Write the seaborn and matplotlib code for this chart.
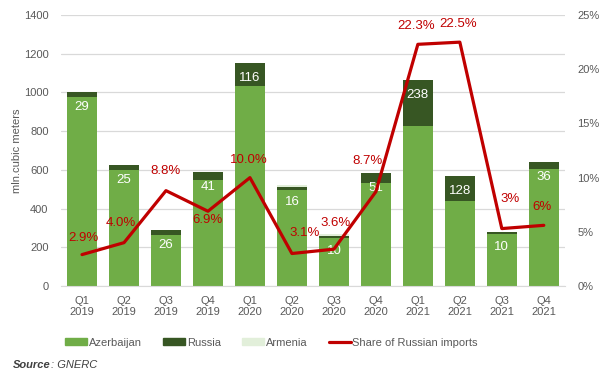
import numpy as np
import pandas as pd
import matplotlib
matplotlib.use("Agg")
import matplotlib.pyplot as plt
from matplotlib.patches import Patch
from matplotlib.lines import Line2D
import seaborn as sns

# datos
quarters = ["Q1\n2019", "Q2\n2019", "Q3\n2019", "Q4\n2019",
            "Q1\n2020", "Q2\n2020", "Q3\n2020", "Q4\n2020",
            "Q1\n2021", "Q2\n2021", "Q3\n2021", "Q4\n2021"]
azerbaijan = [976, 600, 263, 548, 1036, 495, 250, 533, 826, 440, 270, 604]
russia = [29, 25, 26, 41, 116, 16, 10, 51, 238, 128, 10, 36]
armenia = [0, 0, 0, 0, 0, 9, 8, 0, 0, 0, 0, 0]
share = [2.9, 4.0, 8.8, 6.9, 10.0, 3.0, 3.4, 8.7, 22.3, 22.5, 5.3, 5.6]
share_labels = ["2.9%", "4.0%", "8.8%", "6.9%", "10.0%", "3.1%", "3.6%",
                "8.7%", "22.3%", "22.5%", "3%", "6%"]
# desplazamiento de etiquetas (puntos)
label_offsets = [(1, 12), (-2, 14), (0, 14), (0, -6), (-1, 13), (9, 15),
                 (1, 19), (-6, 22), (-1, 13), (-1, 13), (6, 21), (-1, 13)]

c_az = "#70AD47"
c_ru = "#375623"
c_am = "#E2EFDA"
c_line = "#C00000"
c_text = "#595959"

df = pd.DataFrame({"q": quarters, "az": azerbaijan, "ru": russia, "am": armenia})
df["az_ru"] = df["az"] + df["ru"]
df["total"] = df["az_ru"] + df["am"]

sns.set_style("white")
plt.rcParams["font.family"] = ["Liberation Sans", "DejaVu Sans"]

fig = plt.figure(figsize=(6.06, 3.86), dpi=100)
ax = fig.add_axes([0.1007, 0.259, 0.8313, 0.702])

# barras apiladas: total, luego az+ru, luego az encima
for col, c in [("total", c_am), ("az_ru", c_ru), ("az", c_az)]:
    sns.barplot(data=df, x="q", y=col, color=c, width=0.71, saturation=1,
                linewidth=0, ax=ax)

ax.set_ylim(0, 1400)
ax.set_yticks(range(0, 1401, 200))
ax.set_xlim(-0.5, 11.5)
ax.yaxis.grid(True, color="#D9D9D9", linewidth=0.9)
ax.set_axisbelow(True)
for s in ["top", "right", "left"]:
    ax.spines[s].set_visible(False)
ax.spines["bottom"].set_color("#D9D9D9")
ax.tick_params(axis="both", length=0, labelsize=8, labelcolor=c_text)
ax.tick_params(axis="x", pad=7)
ax.tick_params(axis="y", pad=9)
ax.set_xlabel("")
ax.set_ylabel("mln.cubic meters", fontsize=8, color=c_text, labelpad=1)

for i, (a, r) in enumerate(zip(azerbaijan, russia)):
    ax.annotate(str(r), (i, a + r), xytext=(0, -11), textcoords="offset points",
                ha="center", va="center", color="white", fontsize=9.5)

ax2 = ax.twinx()
sns.lineplot(x=np.arange(len(share)), y=share, color=c_line, linewidth=2.3, ax=ax2)
ax2.set_ylim(0, 25)
ax2.set_yticks(range(0, 26, 5))
ax2.set_yticklabels([f"{v}%" for v in range(0, 26, 5)])
ax2.tick_params(axis="y", length=0, labelsize=8, labelcolor=c_text, pad=9)
for s in ax2.spines.values():
    s.set_visible(False)
ax2.set_xlim(-0.5, 11.5)

for i, (v, lab) in enumerate(zip(share, share_labels)):
    ax2.annotate(lab, (i, v), xytext=label_offsets[i], textcoords="offset points",
                 ha="center", va="center", color=c_line, fontsize=9.5)

handles = [Patch(color=c_az, label="Azerbaijan"),
           Patch(color=c_ru, label="Russia"),
           Patch(color=c_am, label="Armenia"),
           Line2D([0], [0], color=c_line, linewidth=2.3, label="Share of Russian imports")]
leg = fig.legend(handles=handles, loc="center", bbox_to_anchor=(0.448, 0.112), ncol=4,
                 frameon=False, fontsize=8, handlelength=2.0, handleheight=0.55,
                 columnspacing=1.9, handletextpad=0.15)
for t in leg.get_texts():
    t.set_color(c_text)

src = fig.text(0.022, 0.047, "Source", fontsize=8, style="italic", weight="bold",
               color="#404040")
fig.add_artist(plt.Annotation(": GNERC", xy=(1, 0), xycoords=src, va="bottom",
                              fontsize=8, style="italic", color="#404040"))

fig.savefig("out.png", dpi=100)
